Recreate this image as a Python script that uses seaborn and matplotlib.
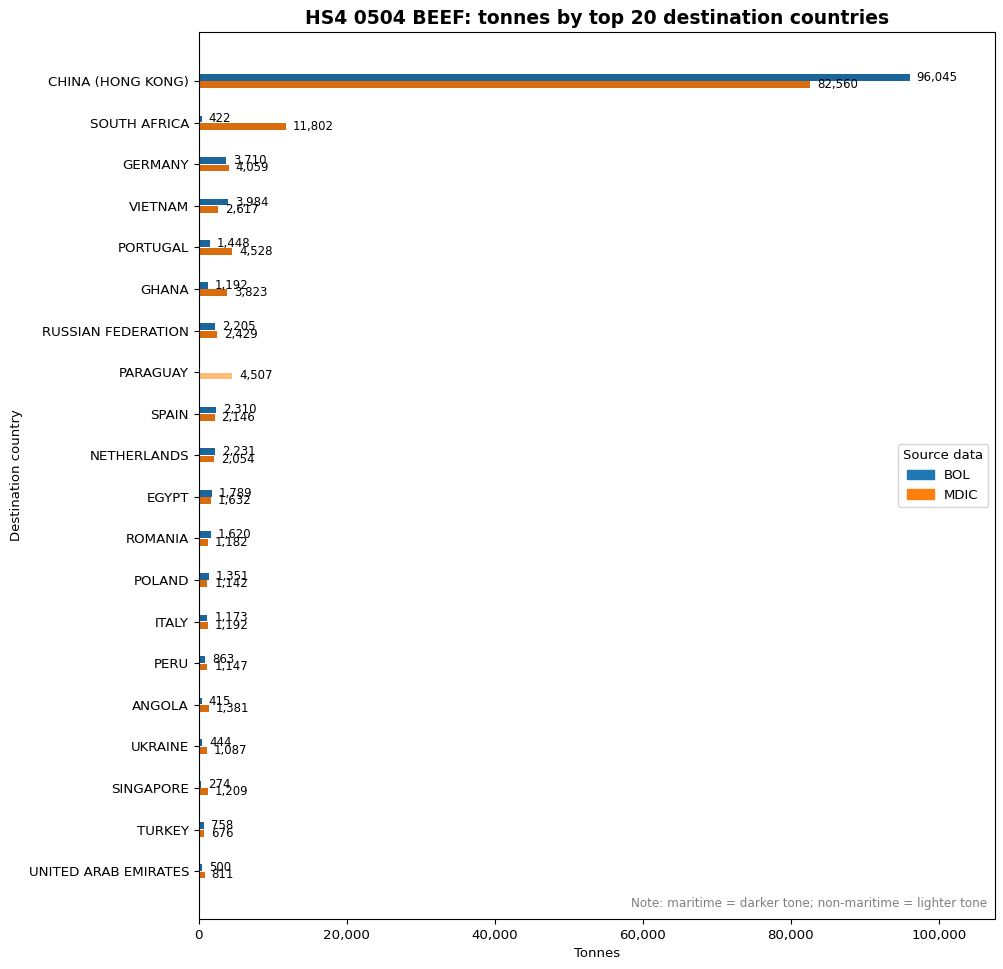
import matplotlib
matplotlib.use("Agg")
import matplotlib.pyplot as plt
import seaborn as sns
import pandas as pd
from matplotlib.patches import Patch

countries = ["CHINA (HONG KONG)", "SOUTH AFRICA", "GERMANY", "VIETNAM", "PORTUGAL", "GHANA",
             "RUSSIAN FEDERATION", "PARAGUAY", "SPAIN", "NETHERLANDS", "EGYPT", "ROMANIA",
             "POLAND", "ITALY", "PERU", "ANGOLA", "UKRAINE", "SINGAPORE", "TURKEY",
             "UNITED ARAB EMIRATES"]
bol_maritime = [96045, 422, 3710, 3984, 1448, 1192, 2205, 0, 2310, 2231, 1789, 1620,
                1351, 1173, 863, 415, 444, 274, 758, 500]
bol_non_maritime = [0] * 20
mdic_maritime = [82560, 11802, 4059, 2617, 4528, 3823, 2429, 0, 2146, 2054, 1632, 1182,
                 1142, 1192, 1147, 1381, 1087, 1209, 676, 811]
mdic_non_maritime = [0, 0, 0, 0, 0, 0, 0, 4507, 0, 0, 0, 0, 0, 0, 0, 0, 0, 0, 0, 0]

rows = []
for i, c in enumerate(countries):
    rows.append({"country": c, "source": "BOL", "maritime": bol_maritime[i],
                 "total": bol_maritime[i] + bol_non_maritime[i]})
    rows.append({"country": c, "source": "MDIC", "maritime": mdic_maritime[i],
                 "total": mdic_maritime[i] + mdic_non_maritime[i]})
df = pd.DataFrame(rows)

dark = {"BOL": "#1a6599", "MDIC": "#d96c0c"}
light = {"BOL": "#aec7e8", "MDIC": "#ffbb78"}

fig = plt.figure(figsize=(10.04, 9.69), dpi=100)
ax = fig.add_axes([0.198, 0.0516, 0.793, 0.9154])

sns.barplot(data=df, y="country", x="total", hue="source", palette=light, order=countries,
            hue_order=["BOL", "MDIC"], orient="h", width=0.36, gap=0.1, ax=ax,
            legend=False, errorbar=None, saturation=1, linewidth=0)
n_light = len(ax.containers)
sns.barplot(data=df, y="country", x="maritime", hue="source", palette=dark, order=countries,
            hue_order=["BOL", "MDIC"], orient="h", width=0.36, gap=0.1, ax=ax,
            legend=False, errorbar=None, saturation=1, linewidth=0)

for cont in ax.containers[:n_light]:
    labels = [f"{int(round(b.get_width())):,}" if b.get_width() > 0 else "" for b in cont]
    ax.bar_label(cont, labels=labels, padding=5, fontsize=8.5)

xmax = max(max(bol_maritime), max(mdic_maritime))
ax.set_xlim(0, xmax * 1.12)
ax.set_ylim(20.15, -1.18)
ax.xaxis.set_major_formatter(matplotlib.ticker.FuncFormatter(lambda v, p: f"{int(v):,}"))
for s in ax.spines.values():
    s.set_visible(True)
ax.set_xlabel("Tonnes", fontsize=9.5)
ax.set_ylabel("Destination country", fontsize=9.5)
ax.tick_params(axis="both", labelsize=9.6)
ax.set_title("HS4 0504 BEEF: tonnes by top 20 destination countries", fontsize=13.5,
             fontweight="bold")

handles = [Patch(color="#1f77b4", label="BOL"), Patch(color="#ff7f0e", label="MDIC")]
ax.legend(handles=handles, title="Source data", loc="center right", fontsize=9.5,
          title_fontsize=9.5)
ax.text(0.99, 0.01, "Note: maritime = darker tone; non-maritime = lighter tone",
        transform=ax.transAxes, ha="right", va="bottom", fontsize=8.65, color="gray")

fig.savefig("out.png", dpi=100)
